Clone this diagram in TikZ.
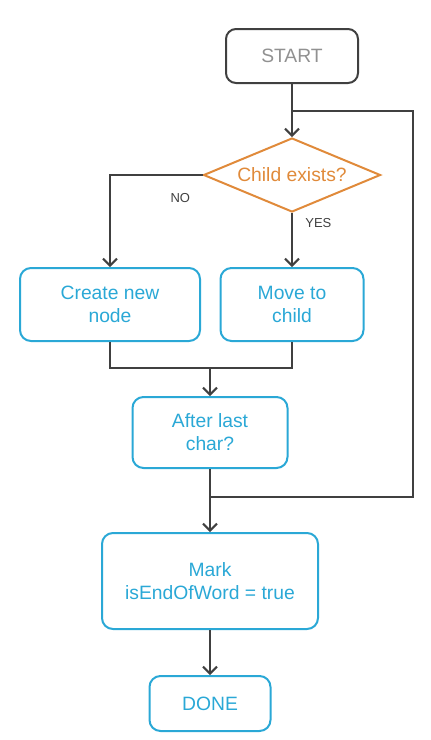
\documentclass[tikz,border=0pt]{standalone}
\usepackage{fontspec}
\setmainfont{Liberation Sans}
\usetikzlibrary{shapes.geometric,arrows.meta}
\definecolor{flowblue}{RGB}{42,168,214}
\definecolor{floworange}{RGB}{224,138,58}
\definecolor{flowline}{RGB}{64,64,64}
\definecolor{flowgray}{RGB}{145,145,145}
\begin{document}
\begin{tikzpicture}[
  x=1pt, y=1pt,
  font=\fontsize{19.3}{23}\selectfont,
  termnode/.style={rectangle, rounded corners=10pt, draw=flowline, line width=2pt, text=flowgray, minimum width=132pt, minimum height=54pt},
  procnode/.style={rectangle, rounded corners=11pt, draw=flowblue, line width=2pt, text=flowblue, align=center, minimum height=73pt},
  decnode/.style={diamond, draw=floworange, line width=2pt, text=floworange, aspect=2.4, minimum width=177pt, minimum height=74pt, inner sep=0pt},
  line/.style={draw=flowline, line width=2pt},
  arrow/.style={line, -{Straight Barb[length=7pt,width=14pt]}},
  tag/.style={font=\fontsize{13}{15}\selectfont, text=flowline}
]
\useasboundingbox (0,0) rectangle (431,-740);

% Nodes
\node[termnode] (start) at (292,-56) {START};
\node[decnode, below of=start, node distance=119pt] (child) {Child exists?};
\node[procnode, minimum width=143pt, below of=child, node distance=129.5pt] (move) {Move to\\child};
\node[procnode, minimum width=180pt, left of=move, node distance=182pt] (create) {Create new\\node};
\node[procnode, minimum width=155pt, minimum height=71pt] (after) at (210,-432.5) {After last\\char?};
\node[procnode, minimum width=216pt, minimum height=96pt, below of=after, node distance=148.5pt] (mark) {Mark\\isEndOfWord = true};
\node[procnode, minimum width=121pt, minimum height=55pt, below of=mark, node distance=122.5pt] (done) {DONE};

% Junction points
\coordinate (mrg) at (210,-368);
\coordinate (jtop) at (292,-111);
\coordinate (jbot) at (210,-497);
\coordinate (rgt) at (413,-497);

% Connectors
\draw[arrow] (start) -- (child);
\draw[arrow] (child.west) -| (create.north) node[tag, pos=0.12, below=14pt] {NO};
\draw[arrow] (child.south) -- (move.north) node[tag, pos=0.18, right=9pt] {YES};
\draw[line] (create.south) |- (mrg);
\draw[line] (move.south) |- (mrg);
\draw[arrow] (mrg) -- (after.north);
\draw[arrow] (after) -- (mark);
\draw[line] (jbot) -- (rgt) |- (jtop);
\draw[arrow] (mark) -- (done);

\end{tikzpicture}
\end{document}
